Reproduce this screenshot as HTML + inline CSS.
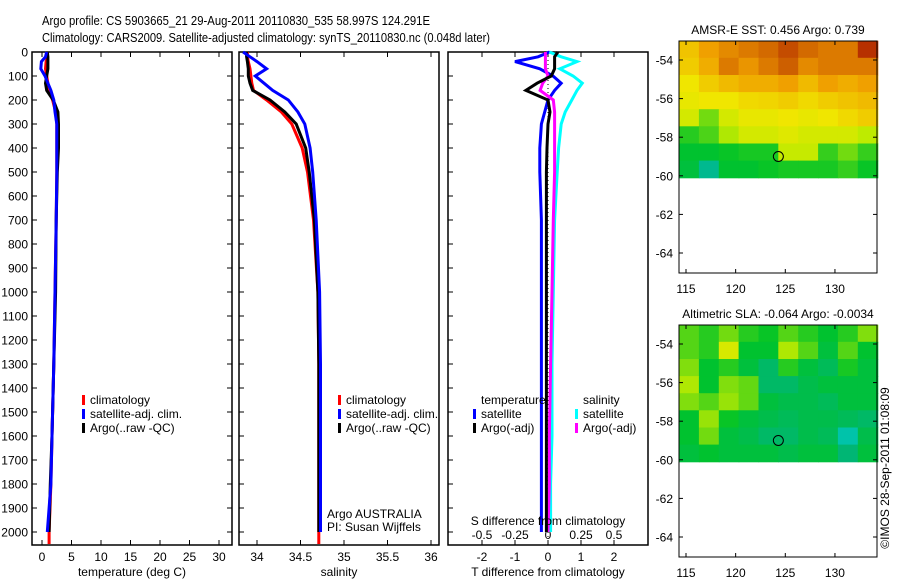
<!DOCTYPE html>
<html><head><meta charset="utf-8"><style>
html,body{margin:0;padding:0;background:#fff;}
svg{display:block;font-family:"Liberation Sans",sans-serif;}
text{fill:#000;}
</style></head><body>
<svg id="chart" width="900" height="580" viewBox="0 0 900 580" xmlns="http://www.w3.org/2000/svg">
<text x="42" y="25" font-size="13" textLength="388" lengthAdjust="spacingAndGlyphs">Argo profile: CS 5903665_21 29-Aug-2011 20110830_535 58.997S 124.291E</text>
<text x="42" y="42" font-size="13" textLength="448" lengthAdjust="spacingAndGlyphs">Climatology: CARS2009. Satellite-adjusted climatology: synTS_20110830.nc (0.048d later)</text>
<g id="g"></g>
</svg>
<script>
// ---- profile data ----
const depths = [0,20,40,70,100,130,160,200,250,300,400,500,700,1000,1300,1600,1800,2000,2050];
const tempClim = [0.9,0.9,0.7,0.6,0.8,1.0,1.2,1.8,2.3,2.5,2.5,2.5,2.4,2.2,2.0,1.7,1.5,1.2,1.2];
const tempSat  = [0.8,0.6,-0.1,-0.2,0.5,1.0,1.5,2.0,2.2,2.5,2.5,2.5,2.4,2.2,2.0,1.7,1.5,0.9,null];
const tempArgo = [0.9,1.0,1.0,1.0,0.8,0.6,0.8,1.9,2.7,2.8,2.8,2.6,2.4,2.3,2.0,1.7,1.4,1.2,null];
const salClim = [33.89,33.89,33.9,33.92,33.93,33.94,33.96,34.11,34.28,34.4,34.52,34.58,34.65,34.70,34.71,34.71,34.71,34.71,34.71];
const salSat  = [33.84,33.92,34.0,34.11,33.98,34.08,34.18,34.36,34.47,34.55,34.61,34.64,34.68,34.72,34.73,34.73,34.73,34.73,null];
const salArgo = [33.88,33.88,33.89,33.9,33.9,33.92,33.95,34.15,34.32,34.45,34.56,34.6,34.66,34.70,34.71,34.71,34.71,34.71,null];
const dTempSat  = [0.05,-0.3,-1.0,-0.25,0.15,0.4,0.2,0.0,-0.1,-0.2,-0.25,-0.25,-0.2,-0.2,-0.2,-0.2,-0.2,-0.2,null];
const dTempArgo = [0.3,0.2,0.2,0.2,0.1,-0.33,-0.67,0.0,0.06,0.0,-0.03,-0.05,-0.05,-0.05,-0.05,-0.05,-0.05,-0.05,null];
const dSalSat  = [0.01,0.1,0.22,0.09,0.19,0.26,0.22,0.18,0.13,0.1,0.08,0.07,0.05,0.04,0.03,0.03,0.02,0.02,null];
const dSalArgo = [-0.02,-0.02,-0.02,-0.02,0.0,-0.04,-0.06,0.04,0.05,0.05,0.05,0.05,0.04,0.03,0.02,0.01,0.01,0.0,null];
const depthTicks = [0,100,200,300,400,500,600,700,800,900,1000,1100,1200,1300,1400,1500,1600,1700,1800,1900,2000];
const tempTicks = [0,5,10,15,20,25,30];
const salTicks = [34,34.5,35,35.5,36];
const salTickLabels = ["34","34.5","35","35.5","36"];
const dTTicks = [-2,-1,0,1,2];
const dSTicks = [-0.5,-0.25,0,0.25,0.5];
const dSTickLabels = ["-0.5","-0.25","0","0.25","0.5"];
// ---- map data (normalized colour values) ----
const sstGrid = [
 [0.70,0.78,0.82,0.85,0.88,0.92,0.88,0.85,0.85,0.95],
 [0.68,0.75,0.85,0.80,0.85,0.90,0.82,0.85,0.85,0.85],
 [0.62,0.68,0.72,0.75,0.75,0.78,0.72,0.78,0.75,0.78],
 [0.60,0.62,0.62,0.65,0.66,0.68,0.65,0.68,0.70,0.72],
 [0.55,0.40,0.55,0.60,0.60,0.62,0.60,0.62,0.65,0.68],
 [0.30,0.35,0.48,0.55,0.55,0.58,0.55,0.55,0.55,0.50],
 [0.24,0.24,0.26,0.28,0.28,0.52,0.52,0.32,0.40,0.32],
 [0.22,0.10,0.24,0.24,0.26,0.28,0.28,0.28,0.32,0.26]];
const slaGrid = [
 [0.36,0.30,0.40,0.30,0.26,0.36,0.30,0.24,0.30,0.42],
 [0.36,0.30,0.56,0.24,0.24,0.48,0.36,0.22,0.36,0.24],
 [0.42,0.24,0.30,0.22,0.16,0.30,0.22,0.18,0.28,0.22],
 [0.48,0.24,0.42,0.38,0.16,0.16,0.20,0.22,0.22,0.22],
 [0.42,0.36,0.45,0.38,0.22,0.20,0.20,0.18,0.22,0.22],
 [0.24,0.45,0.26,0.22,0.20,0.18,0.20,0.20,0.18,0.16],
 [0.24,0.40,0.22,0.20,0.16,0.16,0.20,0.18,0.06,0.20],
 [0.22,0.24,0.22,0.22,0.22,0.20,0.22,0.22,0.14,0.22]];
const lonTicks = [115,120,125,130];
const latTicks = [-54,-56,-58,-60,-62,-64];
const floatLon = 124.3, floatLat = -59.0;

const NS="http://www.w3.org/2000/svg";
const G=document.getElementById('g');
function el(tag,attrs,parent,txt){const e=document.createElementNS(NS,tag);for(const k in attrs)e.setAttribute(k,attrs[k]);if(txt!==undefined)e.textContent=txt;(parent||G).appendChild(e);return e;}
const TOP=52, BOT=545;
const yD=d=>52+d*0.24;
const xT=v=>42+v*5.9;
const xS=v=>257+(v-34)*87;
const xDT=v=>548+v*33;
const xDS=v=>548+v*132;

function panel(name,x0,x1){
  const r=el('rect',{x:x0,y:TOP,width:x1-x0,height:BOT-TOP,fill:'none',stroke:'#000','stroke-width':1.5});
  
  
}
function line(name,vals,xf,color,w){
  let pts=[];
  for(let i=0;i<depths.length;i++){ if(vals[i]===null||vals[i]===undefined)continue; pts.push(xf(vals[i]).toFixed(1)+','+yD(depths[i]).toFixed(1)); }
  const p=el('polyline',{points:pts.join(' '),fill:'none',stroke:color,'stroke-width':w||3,'stroke-linejoin':'miter'});
  
  
}
function xticks(name,ticks,labels,xf,yl,top){
  ticks.forEach((t,i)=>{
    const x=xf(t);
    el('line',{x1:x,y1:BOT,x2:x,y2:BOT-5,stroke:'#000'});
    if(top) el('line',{x1:x,y1:TOP,x2:x,y2:TOP+5,stroke:'#000'});
    const tx=el('text',{x:x,y:yl,'font-size':12,'text-anchor':'middle'},G,labels[i]);
    
    
  });
}
function legendEntry(name,x,y,color,label){
  el('rect',{x:x,y:y-9,width:3,height:10,fill:color});
  const t=el('text',{x:x+8,y:y,'font-size':12},G,label);
  
  
}

// panel 1 temperature
panel('temperature-panel',32,232);
depthTicks.forEach(d=>{
  const y=yD(d);
  el('line',{x1:32,y1:y,x2:37,y2:y,stroke:'#000'});
  el('line',{x1:232,y1:y,x2:227,y2:y,stroke:'#000'});
  el('line',{x1:239,y1:y,x2:244,y2:y,stroke:'#000'});
  el('line',{x1:448,y1:y,x2:453,y2:y,stroke:'#000'});
  const t=el('text',{x:28,y:y+4.5,'font-size':12,'text-anchor':'end'},G,String(d));
  
  
});
xticks('temperature',tempTicks,tempTicks.map(String),xT,561,true);
line('temp-climatology-line',tempClim,xT,'#f00');
line('temp-argo-line',tempArgo,xT,'#000');
line('temp-satellite-line',tempSat,xT,'#00f');
let t1=el('text',{x:132,y:576,'font-size':12,'text-anchor':'middle'},G,'temperature (deg C)');


legendEntry('legend-climatology',82,404,'#f00','climatology');
legendEntry('legend-satellite-adj',82,418,'#00f','satellite-adj. clim.');
legendEntry('legend-argo',82,432,'#000','Argo(..raw -QC)');

// panel 2 salinity
panel('salinity-panel',239,439);
xticks('salinity',salTicks,salTickLabels,xS,561,true);
line('sal-climatology-line',salClim,xS,'#f00');
line('sal-argo-line',salArgo,xS,'#000');
line('sal-satellite-line',salSat,xS,'#00f');
let t2=el('text',{x:339,y:576,'font-size':12,'text-anchor':'middle'},G,'salinity');


legendEntry('legend2-climatology',338,404,'#f00','climatology');
legendEntry('legend2-satellite-adj',338,418,'#00f','satellite-adj. clim.');
legendEntry('legend2-argo',338,432,'#000','Argo(..raw -QC)');
let a1=el('text',{x:327,y:518,'font-size':12},G,'Argo AUSTRALIA');


let a2=el('text',{x:327,y:531,'font-size':12},G,'PI: Susan Wijffels');



// panel 3 differences
panel('difference-panel',448,648);
xticks('t-difference',dTTicks,dTTicks.map(String),xDT,561,false);
dTTicks.forEach(t=>el('line',{x1:xDT(t),y1:TOP,x2:xDT(t),y2:TOP+5,stroke:'#000'}));
dSTicks.forEach((t,i)=>{
  const tx=el('text',{x:xDS(t),y:539,'font-size':12,'text-anchor':'middle'},G,dSTickLabels[i]);
  
  
});
el('line',{x1:548,y1:TOP,x2:548,y2:BOT,stroke:'#000','stroke-dasharray':'1,3'});
line('dtemp-satellite-line',dTempSat,xDT,'#00f');
line('dsal-satellite-line',dSalSat,xDS,'#0ff');
line('dsal-argo-line',dSalArgo,xDS,'#f0f');
line('dtemp-argo-line',dTempArgo,xDT,'#000');
let s1=el('text',{x:548,y:525,'font-size':12,'text-anchor':'middle'},G,'S difference from climatology');


let s2=el('text',{x:548,y:576,'font-size':12,'text-anchor':'middle'},G,'T difference from climatology');


let h1=el('text',{x:481,y:404,'font-size':12},G,'temperature');


let h2=el('text',{x:583,y:404,'font-size':12},G,'salinity');


legendEntry('legend3-temp-satellite',473,418,'#00f','satellite');
legendEntry('legend3-temp-argo',473,432,'#000','Argo(-adj)');
legendEntry('legend3-sal-satellite',575,418,'#0ff','satellite');
legendEntry('legend3-sal-argo',575,432,'#f0f','Argo(-adj)');

// maps
function cmap(v){
  const stops=[[0,[0,210,210]],[0.12,[0,180,130]],[0.25,[0,195,40]],[0.5,[190,235,0]],[0.62,[240,230,0]],[0.78,[240,160,0]],[0.9,[205,95,0]],[1,[160,0,0]]];
  for(let i=1;i<stops.length;i++){ if(v<=stops[i][0]){const a=stops[i-1],b=stops[i];const f=(v-a[0])/(b[0]-a[0]);return 'rgb('+a[1].map((c,k)=>Math.round(c+(b[1][k]-c)*f)).join(',')+')';}}
  return 'rgb(160,0,0)';
}
function map(name,top,title,grid){
  const L=679,R=877,B=top+232;
  const xL=lon=>686+(lon-115)*9.93;
  const yL=lat=>(top+19)+(-54-lat)*19.3;
  const lonMin=114.3,lonMax=134.3,latMax=-53.0,latMin=-60.1;
  const nr=grid.length,nc=grid[0].length;
  grid.forEach((row,r)=>row.forEach((v,c)=>{
    const x0=xL(lonMin+(lonMax-lonMin)*c/nc),x1=xL(lonMin+(lonMax-lonMin)*(c+1)/nc);
    const y0=yL(latMax-(latMax-latMin)*r/nr),y1=yL(latMax-(latMax-latMin)*(r+1)/nr);
    const cell=el('rect',{x:x0.toFixed(1),y:y0.toFixed(1),width:(x1-x0+0.6).toFixed(1),height:(y1-y0+0.6).toFixed(1),fill:cmap(v)});
    
    
  }));
  const fr=el('rect',{x:L,y:top,width:R-L,height:B-top,fill:'none',stroke:'#000','stroke-width':1});
  
  
  lonTicks.forEach(l=>{
    el('line',{x1:xL(l),y1:B,x2:xL(l),y2:B-4,stroke:'#000'});
    el('line',{x1:xL(l),y1:top,x2:xL(l),y2:top+4,stroke:'#000'});
    const t=el('text',{x:xL(l),y:B+20,'font-size':12,'text-anchor':'middle'},G,String(l));
    
    
  });
  latTicks.forEach(l=>{
    el('line',{x1:L,y1:yL(l),x2:L+4,y2:yL(l),stroke:'#000'});
    el('line',{x1:R,y1:yL(l),x2:R-4,y2:yL(l),stroke:'#000'});
    const t=el('text',{x:L-6,y:yL(l)+4.5,'font-size':12,'text-anchor':'end'},G,String(l));
    
    
  });
  const c=el('circle',{cx:xL(floatLon),cy:yL(floatLat),r:5,fill:'none',stroke:'#000','stroke-width':1});
  
  
  const tt=el('text',{x:778,y:top-7,'font-size':12,'text-anchor':'middle'},G,title);
  
  
}
map('sst-map',41,'AMSR-E SST: 0.456 Argo: 0.739',sstGrid);
map('sla-map',325,'Altimetric SLA: -0.064 Argo: -0.0034',slaGrid);
const cr=el('text',{x:0,y:0,'font-size':12,'text-anchor':'middle',transform:'translate(889,468) rotate(-90)'},G,'©IMOS 28-Sep-2011 01:08:09');


</script>
</body></html>
